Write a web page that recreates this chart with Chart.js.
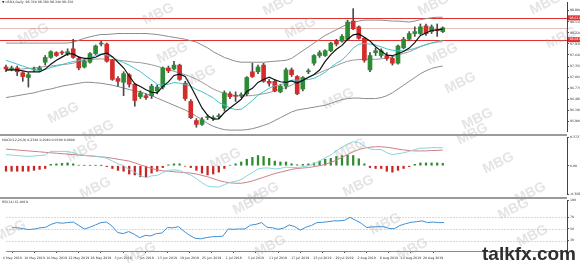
<!DOCTYPE html>
<html>
<head>
<meta charset="utf-8">
<script src="https://cdn.jsdelivr.net/npm/chart.js@4.4.0/dist/chart.umd.min.js"></script>
<style>
html, body { margin: 0; padding: 0; background: #fff; }
#wrap { position: relative; width: 580px; height: 265px; overflow: hidden; }
#wrap canvas { position: absolute; left: 0; }
.wm { position: absolute; font: bold 14px "Liberation Sans", Arial, sans-serif; color: rgba(150,150,150,0.26);
      transform: translate(-50%, -50%) rotate(-26deg); white-space: nowrap; pointer-events: none; }
#brand { position: absolute; left: 482px; top: 244px; font: bold 19px/19px "Liberation Sans", Arial, sans-serif; color: #2e2e2e; }
</style>
</head>
<body>
<div id="wrap">
  <canvas id="cMain" width="580" height="134" style="top:0"></canvas>
  <canvas id="cMacd" width="580" height="63" style="top:134px"></canvas>
  <canvas id="cRsi" width="580" height="68" style="top:197px"></canvas>
  <div id="brand">talkfx.com</div>
</div>
<script>
// ================= DATOS =================
const dateLabels = ['6 May 2019', '10 May 2019', '16 May 2019', '22 May 2019', '28 May 2019', '3 Jun 2019',
  '7 Jun 2019', '13 Jun 2019', '19 Jun 2019', '25 Jun 2019', '1 Jul 2019', '5 Jul 2019', '11 Jul 2019',
  '17 Jul 2019', '23 Jul 2019', '29 Jul 2019', '2 Aug 2019', '8 Aug 2019', '14 Aug 2019', '20 Aug 2019'];
const barsPerLabel = 4;

const openP = [97.325,97.275,97.3,97.175,97.05,97.25,97.25,97.45,97.575,97.7,
  97.7,97.675,97.8,97.55,97.325,97.45,97.675,97.925,97.925,97.5,
  97.025,96.925,97.125,96.875,96.55,96.575,96.575,96.7,96.8,97.3,
  97.275,97.375,96.9,96.425,95.925,95.825,96.0,95.975,96.025,96.25,
  96.625,96.575,96.575,96.625,97.2,97.2,97.375,96.95,96.95,96.675,
  96.825,97.25,97.075,96.75,97.2,97.425,97.625,97.625,97.75,98.0,
  98.0,98.05,98.525,98.375,98.075,97.25,97.7,97.625,97.625,97.55,
  97.425,97.825,98.05,98.2,98.2,98.4,98.25,98.3,98.25];
const highP = [97.375,97.35,97.35,97.2,97.175,97.325,97.35,97.625,97.75,97.725,
  97.75,97.8,98.05,97.6,97.525,97.7,97.9,98.0,97.95,97.525,
  97.075,97.2,97.15,96.9,96.7,96.625,96.875,96.85,97.325,97.35,
  97.475,97.4,96.95,96.475,95.975,96.0,96.075,96.05,96.1,96.7,
  96.675,96.675,96.65,97.075,97.425,97.375,97.425,97.0,97.0,96.875,
  97.3,97.3,97.1,97.075,97.275,97.65,97.75,97.775,97.975,98.05,
  98.175,98.55,98.85,98.4,98.1,97.7,97.825,97.8,97.7,97.6,
  97.9,98.1,98.25,98.375,98.45,98.45,98.425,98.45,98.375];
const lowP = [97.2,97.225,97.1,96.95,96.8,97.2,97.2,97.375,97.55,97.6,
  97.65,97.625,97.55,97.25,97.3,97.425,97.65,97.875,97.45,96.975,
  96.825,96.575,96.8,96.3,96.5,96.475,96.5,96.625,96.75,97.175,
  97.25,96.975,96.45,95.975,95.75,95.8,95.95,95.925,95.975,96.175,
  96.5,96.425,96.525,96.575,97.05,97.15,96.925,96.825,96.675,96.65,
  96.75,97.075,96.6,96.7,97.15,97.375,97.575,97.6,97.725,97.875,
  97.975,98.025,98.3,98.05,97.45,97.2,97.625,97.575,97.5,97.375,
  97.4,97.8,98.025,98.125,98.175,98.15,98.2,98.125,98.225];
const closeP = [97.275,97.3,97.2,97.075,97.125,97.275,97.3,97.575,97.725,97.625,
  97.69,97.725,97.575,97.3,97.475,97.675,97.875,97.95,97.475,97.0,
  96.95,97.15,96.875,96.45,96.65,96.525,96.825,96.8,97.3,97.225,
  97.375,97.0,96.5,96.0,95.825,95.95,96.025,96.0,96.05,96.65,
  96.55,96.56,96.6,97.05,97.075,97.325,96.95,96.9,96.7,96.825,
  97.25,97.125,96.625,97.05,97.225,97.625,97.7,97.75,97.95,97.925,
  98.125,98.5,98.325,98.075,97.5,97.625,97.75,97.75,97.55,97.425,
  97.875,98.05,98.2,98.25,98.375,98.2,98.375,98.275,98.35];

// medias móviles y bandas
const maFast = [97.25,97.25,97.25,97.225,97.195,97.195,97.195,97.27,97.4,97.5,
  97.583,97.668,97.668,97.583,97.553,97.55,97.58,97.655,97.69,97.595,
  97.45,97.305,97.09,96.885,96.815,96.73,96.665,96.65,96.82,96.935,
  97.105,97.14,97.08,96.82,96.54,96.255,96.06,95.96,95.97,96.135,
  96.255,96.363,96.483,96.683,96.768,96.923,97.0,97.06,96.99,96.94,
  96.925,96.96,96.905,96.975,97.055,97.13,97.245,97.47,97.65,97.79,
  97.89,98.05,98.165,98.19,98.105,98.005,97.855,97.74,97.635,97.62,
  97.67,97.73,97.82,97.96,98.15,98.215,98.28,98.295,98.315];
const maSlow = [97.5,97.45,97.4,97.35,97.3,97.25,97.225,97.26,97.313,97.348,
  97.388,97.43,97.468,97.49,97.525,97.565,97.625,97.66,97.635,97.575,
  97.5,97.443,97.373,97.288,97.205,97.09,96.985,96.87,96.853,96.875,
  96.918,96.903,96.865,96.82,96.738,96.68,96.6,96.52,96.395,96.338,
  96.255,96.21,96.22,96.325,96.45,96.588,96.68,96.77,96.835,96.853,
  96.925,96.98,96.983,96.983,96.998,97.028,97.103,97.188,97.313,97.423,
  97.51,97.648,97.818,97.92,97.938,97.925,97.9,97.85,97.8,97.763,
  97.75,97.75,97.775,97.813,97.863,97.913,97.95,97.988,98.025];
const bbUpper = [97.95,97.95,97.95,97.95,97.95,97.95,97.95,97.95,97.95,97.95,
  97.95,97.95,97.975,98.025,98.075,98.113,98.15,98.175,98.175,98.188,
  98.2,98.2,98.2,98.2,98.2,98.2,98.188,98.175,98.15,98.125,
  98.1,98.075,98.05,98.013,97.975,97.9,97.825,97.725,97.65,97.575,
  97.525,97.475,97.45,97.45,97.45,97.45,97.45,97.463,97.475,97.488,
  97.5,97.55,97.65,97.75,97.85,97.95,98.05,98.15,98.225,98.3,
  98.375,98.45,98.5,98.525,98.55,98.55,98.55,98.55,98.538,98.525,
  98.525,98.513,98.5,98.525,98.563,98.588,98.613,98.625,98.625];
const bbMid = [97.238,97.25,97.263,97.275,97.288,97.3,97.319,97.338,97.35,97.369,
  97.388,97.4,97.425,97.463,97.5,97.519,97.531,97.538,97.525,97.519,
  97.506,97.488,97.469,97.45,97.438,97.413,97.381,97.344,97.3,97.256,
  97.213,97.169,97.125,97.069,97.006,96.925,96.838,96.75,96.688,96.631,
  96.6,96.575,96.563,96.569,96.581,96.6,96.625,96.656,96.7,96.744,
  96.788,96.85,96.925,96.988,97.05,97.113,97.175,97.238,97.3,97.363,
  97.425,97.475,97.506,97.519,97.525,97.525,97.525,97.538,97.556,97.588,
  97.638,97.681,97.725,97.788,97.856,97.906,97.95,97.975,97.988];
const bbLower = [96.525,96.55,96.575,96.6,96.625,96.65,96.688,96.725,96.75,96.788,
  96.825,96.85,96.875,96.9,96.925,96.925,96.913,96.9,96.875,96.85,
  96.813,96.775,96.738,96.7,96.675,96.625,96.575,96.513,96.45,96.388,
  96.325,96.263,96.2,96.125,96.038,95.95,95.85,95.775,95.725,95.688,
  95.675,95.675,95.675,95.688,95.713,95.75,95.8,95.85,95.925,96.0,
  96.075,96.15,96.2,96.225,96.25,96.275,96.3,96.325,96.375,96.425,
  96.475,96.5,96.513,96.513,96.5,96.5,96.5,96.525,96.575,96.65,
  96.75,96.85,96.95,97.05,97.15,97.225,97.288,97.325,97.35];

// MACD
const macdMain = [0.144,0.138,0.132,0.126,0.12,0.126,0.132,0.138,0.186,0.186,
  0.186,0.186,0.168,0.144,0.136,0.13,0.124,0.116,0.096,0.06,
  0.024,0,-0.048,-0.084,-0.132,-0.156,-0.132,-0.126,-0.09,-0.06,
  -0.054,-0.06,-0.096,-0.12,-0.168,-0.222,-0.264,-0.276,-0.276,-0.246,
  -0.216,-0.204,-0.18,-0.132,-0.09,-0.042,-0.03,-0.03,-0.042,-0.036,
  -0.018,-0.024,-0.024,-0.012,0,0.024,0.06,0.102,0.138,0.192,
  0.24,0.282,0.312,0.3,0.252,0.216,0.21,0.21,0.168,0.144,
  0.156,0.168,0.186,0.21,0.228,0.228,0.234,0.234,0.234];
const macdSignal = [0.216,0.21,0.204,0.198,0.192,0.186,0.18,0.174,0.168,0.162,
  0.156,0.15,0.144,0.138,0.132,0.126,0.12,0.114,0.108,0.096,
  0.084,0.072,0.06,0.036,0.012,-0.012,-0.036,-0.054,-0.066,-0.072,
  -0.078,-0.084,-0.09,-0.096,-0.108,-0.126,-0.144,-0.168,-0.192,-0.21,
  -0.222,-0.228,-0.228,-0.216,-0.198,-0.174,-0.15,-0.126,-0.102,-0.084,
  -0.066,-0.048,-0.036,-0.03,-0.024,-0.012,0,0.018,0.042,0.072,
  0.108,0.144,0.18,0.21,0.228,0.24,0.246,0.246,0.24,0.228,
  0.216,0.204,0.198,0.192,0.192,0.192,0.198,0.198,0.204];
const macdHist = [-0.072,-0.072,-0.072,-0.072,-0.072,-0.06,-0.048,-0.036,0.018,0.024,
  0.03,0.036,0.024,0.006,0.004,0.004,0.004,0.002,-0.012,-0.036,
  -0.06,-0.072,-0.108,-0.12,-0.144,-0.144,-0.096,-0.072,-0.024,0.012,
  0.024,0.024,-0.006,-0.024,-0.06,-0.096,-0.12,-0.108,-0.084,-0.036,
  0.006,0.024,0.048,0.084,0.108,0.132,0.12,0.096,0.06,0.048,
  0.048,0.024,0.012,0.018,0.024,0.036,0.06,0.084,0.096,0.12,
  0.132,0.138,0.132,0.09,0.024,-0.024,-0.036,-0.036,-0.072,-0.084,
  -0.06,-0.036,-0.012,0.018,0.036,0.036,0.036,0.036,0.03];

// RSI
const rsi = [52.5,52,50.5,49,50,52,53,58,61,60,
  61,62,56,50,53,57,61,62,55,44,
  42,45.5,41,35,39,38,42,43,52.5,52,
  54,46,39,34,33,35,36.5,37,37.5,50,
  49.5,50,50,56.5,58,61,53,52,49.5,51.5,
  57,54,48,53,56,61,61.5,62.5,64,64,
  65,70,65,60,52.5,53.5,54,54,51,50.5,
  56,59,61.5,62.5,64,61,62,61,61];

// ejes y niveles
const priceTicks = [98.8, 98.51, 98.22, 97.93, 97.64, 97.35, 97.06, 96.77, 96.48, 96.19, 95.9];
const priceLines = [98.61, 98.04];
const bidPrice = 98.35;
const macdTicks = [0.3727, 0, -0.3685];
const rsiTicks = [100, 70, 50, 30];
const rsiLevels = [70, 50, 30];

const mainTitle = '\u25BC USDX,Daily  98.360 98.380 98.340 98.350';
const macdTitle = 'MACD(12,26,9) 0.2340 0.2040 0.0300 0.0000';
const rsiTitle = 'RSI(14) 61.0019';

// ================= CONFIGURACIÓN =================
const X_MIN = -1.07, X_MAX = 100.18;   // deja hueco a la derecha como MT4
const AXIS_W = 13;
const TINY = { size: 3.2, family: '"DejaVu Sans", sans-serif' };
const UP = '#2c8c36', DOWN = '#d42b2b';

const idx = closeP.map((_, i) => i);
const pts = arr => arr.map((v, i) => ({ x: i, y: v }));

// líneas horizontales, etiquetas y separadores
const decor = {
  id: 'decor',
  beforeDatasetsDraw(chart, args, o) {
    const { ctx, chartArea: a } = chart;
    const y = chart.scales.y;
    ctx.save();
    (o.levels || []).forEach(l => {
      const py = Math.round(y.getPixelForValue(l.value)) + 0.5;
      ctx.strokeStyle = l.color;
      ctx.lineWidth = l.width || 1;
      ctx.setLineDash(l.dash || []);
      ctx.beginPath();
      ctx.moveTo(a.left, py);
      ctx.lineTo(a.right, py);
      ctx.stroke();
    });
    ctx.restore();
  },
  afterDraw(chart, args, o) {
    const { ctx, chartArea: a } = chart;
    const y = chart.scales.y;
    ctx.save();
    if (o.sepTop) {
      ctx.fillStyle = '#9b9b9b';
      ctx.fillRect(0, 0, a.right, 2);
    }
    ctx.font = TINY.size + 'px ' + TINY.family;
    ctx.textBaseline = 'middle';
    (o.levels || []).filter(l => l.tag).forEach(l => {
      const py = y.getPixelForValue(l.value);
      ctx.fillStyle = l.tag;
      ctx.fillRect(a.right + 1, py - 2.5, AXIS_W, 5);
      ctx.fillStyle = '#fff';
      ctx.fillText(l.value.toFixed(3), a.right + 2.5, py);
    });
    if (o.title) {
      ctx.fillStyle = '#333';
      ctx.textBaseline = 'top';
      ctx.fillText(o.title, 2, o.titleY);
    }
    ctx.restore();
  }
};
Chart.register(decor);

function xScale(show) {
  const s = {
    type: 'linear', min: X_MIN, max: X_MAX, offset: false,
    display: show, grid: { offset: false, drawOnChartArea: false, tickLength: 2, color: '#555' }
  };
  if (show) {
    s.afterFit = sc => { sc.height = 14; };
    s.afterBuildTicks = sc => { sc.ticks = dateLabels.map((_, k) => ({ value: k * barsPerLabel })); };
    s.ticks = { font: TINY, color: '#333', padding: 3, maxRotation: 0, autoSkip: false,
                callback: (v, k) => dateLabels[k] };
    s.border = { display: true, color: '#8a8a8a' };
  }
  return s;
}

function yScale(min, max, ticks, fmt) {
  return {
    position: 'right', min, max, beginAtZero: false,
    afterFit: sc => { sc.width = AXIS_W; },
    afterBuildTicks: sc => { sc.ticks = ticks.map(v => ({ value: v })); },
    ticks: { font: TINY, color: '#333', padding: 1, autoSkip: false, callback: fmt },
    grid: { drawOnChartArea: false, tickLength: 2, color: '#555' },
    border: { display: true, color: '#444' }
  };
}

function baseOptions(pad) {
  return {
    responsive: false, animation: false, events: [],
    layout: { padding: { top: pad, left: 0, right: 0, bottom: 0 }, autoPadding: false },
    plugins: { legend: { display: false }, tooltip: { enabled: false } }
  };
}

// ================= GRÁFICO 1: VELAS =================
function createMainChart() {
  const opts = baseOptions(0);
  opts.scales = { x: xScale(false), y: yScale(95.65, 99.0, priceTicks, v => v.toFixed(3)) };
  opts.plugins.decor = {
    title: mainTitle, titleY: 1,
    levels: [
      { value: bidPrice, color: 'rgba(215,160,160,0.7)' },
      { value: priceLines[0], color: '#e03030', width: 1.2, tag: '#e03030' },
      { value: priceLines[1], color: '#e03030', width: 1.2, tag: '#e03030' }
    ]
  };
  const line = (data, color, w, order) => ({
    type: 'line', data: pts(data), borderColor: color, borderWidth: w,
    pointRadius: 0, tension: 0, order
  });
  new Chart(document.getElementById('cMain'), {
    type: 'bar',
    data: {
      datasets: [
        line(bbUpper, '#8c8c8c', 1, 4),
        line(bbMid, '#9a9a9a', 1, 4),
        line(bbLower, '#8c8c8c', 1, 4),
        {
          data: idx.map(i => ({ x: i, y: [lowP[i], highP[i]] })),
          backgroundColor: '#4a4a4a', barThickness: 1, grouped: false, order: 3
        },
        {
          data: idx.map(i => ({ x: i, y: [openP[i], closeP[i]] })),
          backgroundColor: idx.map(i => closeP[i] >= openP[i] ? UP : DOWN),
          barThickness: 4, minBarLength: 1, grouped: false, order: 2
        },
        line(maSlow, '#45c1c6', 1, 1),
        line(maFast, '#111', 1.2, 0)
      ]
    },
    options: opts
  });
}

// ================= GRÁFICO 2: MACD =================
function createMacdChart() {
  const opts = baseOptions(3);
  opts.scales = {
    x: xScale(false),
    y: yScale(-0.3685, 0.3727, macdTicks, v => v === 0 ? '0.00' : v.toFixed(4))
  };
  opts.plugins.decor = { sepTop: true, title: macdTitle, titleY: 4.5 };
  new Chart(document.getElementById('cMacd'), {
    type: 'bar',
    data: {
      datasets: [
        {
          data: pts(macdHist),
          backgroundColor: macdHist.map(v => v >= 0 ? '#2e8b2e' : '#cc2222'),
          barThickness: 1.6, grouped: false, order: 2
        },
        { type: 'line', data: pts(macdSignal), borderColor: '#cf7f86', borderWidth: 1, pointRadius: 0, order: 1 },
        { type: 'line', data: pts(macdMain), borderColor: '#86d6dc', borderWidth: 1, pointRadius: 0, order: 0 }
      ]
    },
    options: opts
  });
}

// ================= GRÁFICO 3: RSI =================
function createRsiChart() {
  const opts = baseOptions(3);
  opts.scales = { x: xScale(true), y: yScale(12, 100, rsiTicks, v => String(v)) };
  opts.plugins.decor = {
    sepTop: true, title: rsiTitle, titleY: 3.5,
    levels: rsiLevels.map(v => ({ value: v, color: '#b4b4b4', dash: [1, 2] }))
  };
  new Chart(document.getElementById('cRsi'), {
    type: 'line',
    data: {
      datasets: [{ data: pts(rsi), borderColor: '#3f8fd4', borderWidth: 1, pointRadius: 0, tension: 0 }]
    },
    options: opts
  });
}

// marcas de agua
const wmSpots = [[33,33],[158,13],[172,52],[63,112],[98,130],[278,4],[300,27],[200,75],[338,98],
  [433,4],[545,3],[442,53],[561,37],[460,82],[477,118],[82,150],[95,187],[225,158],[263,192],
  [350,148],[358,185],[472,133],[498,162],[530,192],[10,230],[140,252],[248,203],[270,245],
  [385,223],[412,248],[513,208],[532,235]];
function addWatermarks() {
  const wrap = document.getElementById('wrap');
  const brand = document.getElementById('brand');
  wmSpots.forEach(([x, y]) => {
    const d = document.createElement('div');
    d.className = 'wm';
    d.style.left = x + 'px';
    d.style.top = y + 'px';
    d.textContent = 'MBG';
    wrap.insertBefore(d, brand);
  });
}

createMainChart();
createMacdChart();
createRsiChart();
addWatermarks();
</script>
</body>
</html>
